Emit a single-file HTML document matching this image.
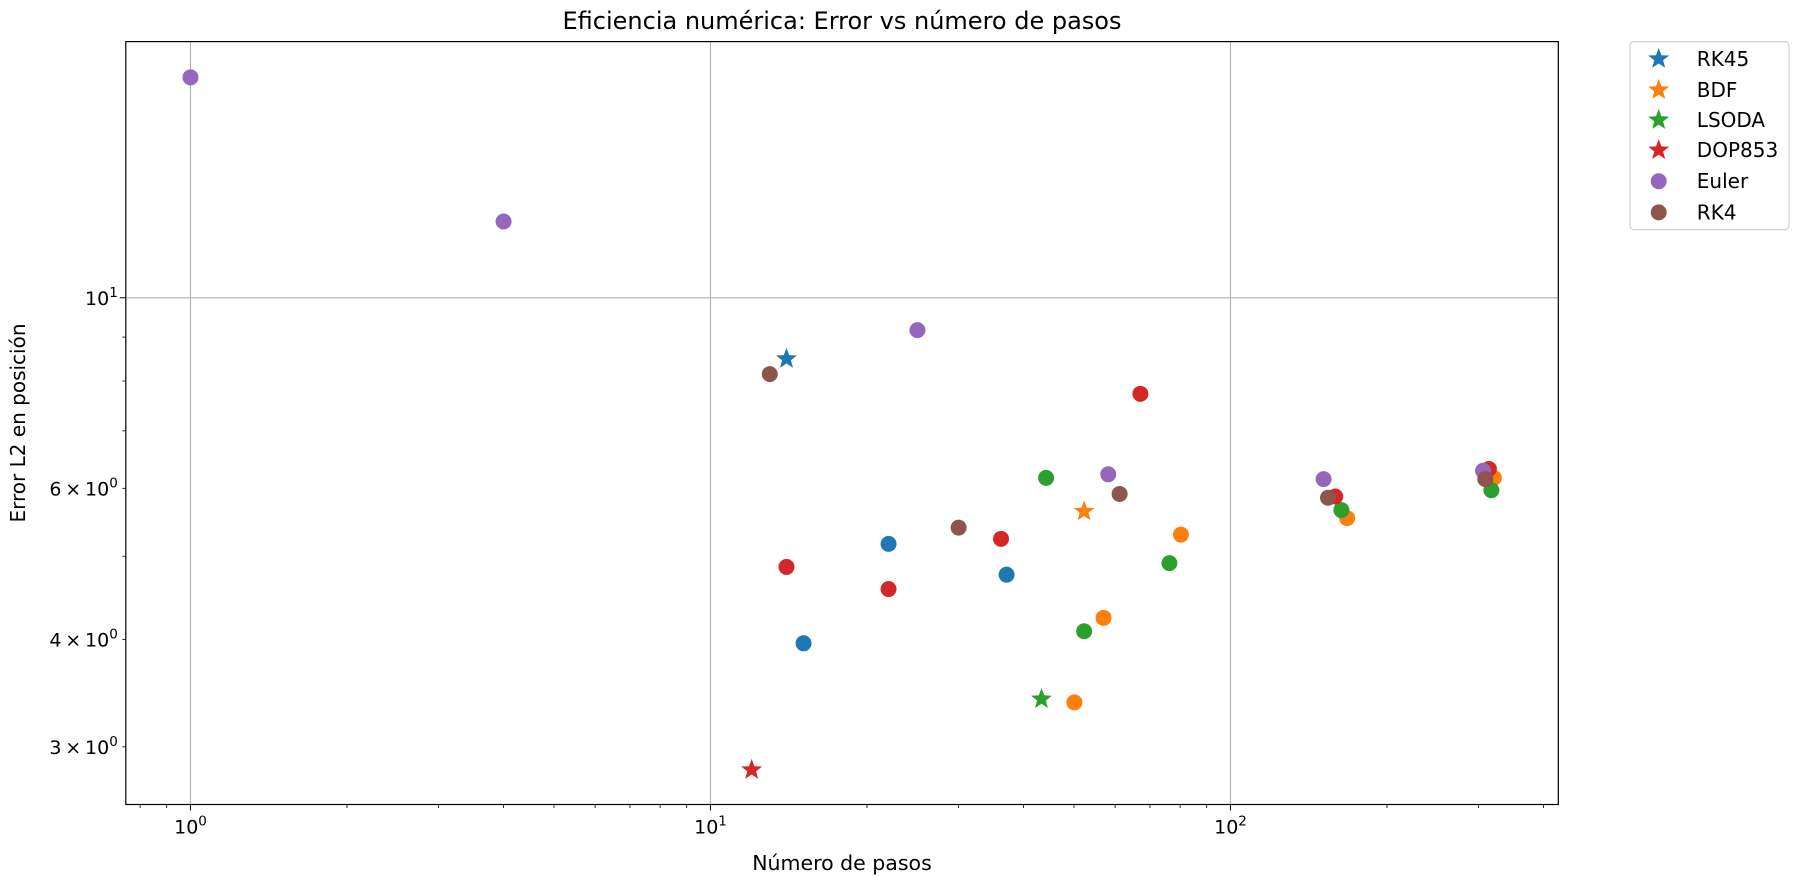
<!DOCTYPE html>
<html><head><meta charset="utf-8"><style>
html,body{margin:0;padding:0;background:#fff;}
svg{display:block;font-family:"DejaVu Sans","Liberation Sans",sans-serif;}
</style></head><body>
<svg id="chart" width="1810" height="877" viewBox="0 0 1810 877" xmlns="http://www.w3.org/2000/svg">
<g id="grid"></g>
<g id="marks"></g>
<rect x="125.8" y="41.6" width="1432.5" height="762.9" fill="none" stroke="#000" stroke-width="1.2"/>
<g id="ticks"></g>
<text x="842" y="29" text-anchor="middle" font-size="24">Eficiencia numérica: Error vs número de pasos</text>
<text x="842" y="870" text-anchor="middle" font-size="20.5">Número de pasos</text>
<text transform="translate(25,423) rotate(-90)" text-anchor="middle" font-size="20">Error L2 en posición</text>
<g id="legend"></g>
</svg>
<script>
const methods=["RK45","BDF","LSODA","DOP853","Euler","RK4"];
const colors=["#1f77b4","#ff7f0e","#2ca02c","#d62728","#9467bd","#8c564b"];
const starX=[14.0,52.3,43.3,12.0,null,null];
const starY=[8.49,5.64,3.41,2.82,null,null];
const rk45X=[22,37.1,15.1], rk45Y=[5.17,4.76,3.96];
const bdfX=[80.3,57,50.1,167.6,321], bdfY=[5.30,4.24,3.38,5.54,6.17];
const lsodaX=[44.2,52.3,76.3,163.4,317.5], lsodaY=[6.17,4.09,4.91,5.66,5.97];
const dopX=[67.1,36.2,14.0,22,159,314], dopY=[7.73,5.24,4.86,4.58,5.87,6.32];
const eulerX=[1,4,25,58.2,151,306], eulerY=[18.06,12.27,9.17,6.23,6.15,6.29];
const rk4X=[13.0,30,61.2,154,309], rk4Y=[8.15,5.40,5.91,5.85,6.15];
const circX=[rk45X,bdfX,lsodaX,dopX,eulerX,rk4X];
const circY=[rk45Y,bdfY,lsodaY,dopY,eulerY,rk4Y];
const xMajor=[1,10,100], xMajorLabels=["0","1","2"];
const yMajor=[10], yMinorLabeled=[3,4,6];

const L=125.8,R=1558.3,T=41.6,B=804.5;
const x0=190.5, xd=520.0, y10=297.8, yd=858.8;
const X=v=>x0+Math.log10(v)*xd;
const Y=v=>y10-(Math.log10(v)-1)*yd;
const NS="http://www.w3.org/2000/svg";
function mk(tag,attrs,parent){const e=document.createElementNS(NS,tag);for(const k in attrs)e.setAttribute(k,attrs[k]);parent.appendChild(e);return e;}
const grid=document.getElementById('grid'),marks=document.getElementById('marks'),ticks=document.getElementById('ticks'),legend=document.getElementById('legend');
xMajor.forEach(v=>{const l=mk('line',{x1:X(v),x2:X(v),y1:T,y2:B,stroke:'#b0b0b0','stroke-width':1.1},grid);

});
yMajor.forEach(v=>{const l=mk('line',{x1:L,x2:R,y1:Y(v),y2:Y(v),stroke:'#b0b0b0','stroke-width':1.1},grid);

});
function starPts(cx,cy,ro){const ri=ro*0.42;let p=[];for(let i=0;i<10;i++){const a=-Math.PI/2+i*Math.PI/5;const r=i%2?ri:ro;p.push((cx+r*Math.cos(a)).toFixed(1)+','+(cy+r*Math.sin(a)).toFixed(1));}return p.join(' ');}
for(let m=0;m<methods.length;m++){
  if(starX[m]!=null){const s=mk('polygon',{points:starPts(X(starX[m]),Y(starY[m]),11),fill:colors[m]},marks);
  
  }
  circX[m].forEach((xv,i)=>{const c=mk('circle',{cx:X(xv),cy:Y(circY[m][i]),r:8,fill:colors[m]},marks);
  
  });
}
for(let d=-1;d<=2;d++)for(let k=1;k<=9;k++){const v=k*Math.pow(10,d);const px=X(v);if(px<L||px>R)continue;
  const major=k===1;mk('line',{x1:px,x2:px,y1:B,y2:B+(major?6:3.5),stroke:'#000','stroke-width':major?1:0.8},ticks);}
xMajor.forEach((v,i)=>{const t=mk('text',{x:X(v),y:B+29,'text-anchor':'middle','font-size':19},ticks);


t.innerHTML='10<tspan dy="-8" font-size="13.5">'+xMajorLabels[i]+'</tspan>';});
for(let k=2;k<=10;k++){const py=Y(k);if(py<T||py>B)continue;
  const major=k===10;mk('line',{x1:L,x2:L-(major?6:3.5),y1:py,y2:py,stroke:'#000','stroke-width':major?1:0.8},ticks);}
yMajor.forEach(v=>{const t=mk('text',{x:L-8,y:Y(v)+7,'text-anchor':'end','font-size':19},ticks);


t.innerHTML='10<tspan dy="-8" font-size="13.5">1</tspan>';});
yMinorLabeled.forEach(v=>{const t=mk('text',{x:L-8,y:Y(v)+7,'text-anchor':'end','font-size':19},ticks);


t.innerHTML=v+'\u2009\u00d7\u200910<tspan dy="-8" font-size="13.5">0</tspan>';});
const lb=mk('rect',{x:1630,y:41.6,width:159,height:188,rx:4,fill:'#fff',stroke:'#d0d0d0','stroke-width':1.2},legend);


const ly=[58.9,90.0,120.0,150.1,181.2,212.4];
methods.forEach((n,i)=>{const g=mk('g',{},legend);


if(i<4)mk('polygon',{points:starPts(1658.7,ly[i],11),fill:colors[i]},g);else mk('circle',{cx:1658.7,cy:ly[i],r:8,fill:colors[i]},g);
const t=mk('text',{x:1696.8,y:ly[i]+7,'font-size':20},g);t.textContent=n;});
</script>
</body></html>
